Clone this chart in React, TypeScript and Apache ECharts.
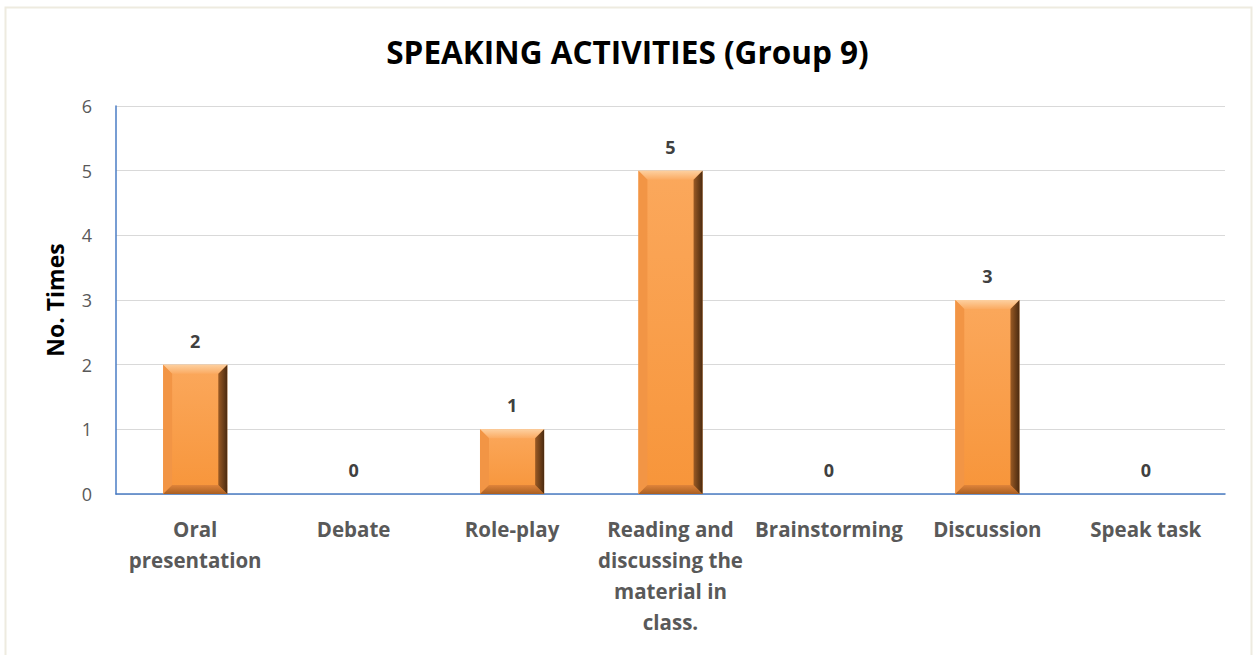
import React, { useEffect, useRef } from "react";
import * as echarts from "echarts";

const categories = [
  "Oral\npresentation",
  "Debate",
  "Role-play",
  "Reading and\ndiscussing the\nmaterial in\nclass.",
  "Brainstorming",
  "Discussion",
  "Speak task",
];
const values = [2, 0, 1, 5, 0, 3, 0];
const yTicks = [0, 1, 2, 3, 4, 5, 6];

export default function App() {
  const ref = useRef<HTMLDivElement>(null);
  useEffect(() => {
    document.body.style.margin = "0";
    const chart = echarts.init(ref.current!, null, { renderer: "svg" });
    const font = "'Open Sans', 'Liberation Sans', sans-serif";
    chart.setOption({
      animation: false,
      backgroundColor: "#ffffff",
      title: {
        text: "SPEAKING ACTIVITIES (Group 9)",
        left: "center",
        top: 30,
        textStyle: { fontFamily: font, fontWeight: "bold", fontSize: 31.5, color: "#000000" },
      },
      graphic: [
        {
          type: "rect",
          shape: { x: 5.5, y: 7.5, width: 1246, height: 660 },
          style: { fill: "none", stroke: "#eeebe0", lineWidth: 2 },
          silent: true,
        },
      ],
      grid: { left: 116, right: 30, top: 106, bottom: 161 },
      xAxis: {
        type: "category",
        data: categories,
        axisLine: { show: true, lineStyle: { color: "#4a7cc4", width: 1.5 } },
        axisTick: { show: false },
        axisLabel: {
          interval: 0,
          margin: 19,
          fontFamily: font,
          fontWeight: "bold",
          fontSize: 20.5,
          color: "#595959",
          lineHeight: 31,
        },
      },
      yAxis: {
        type: "value",
        min: 0,
        max: 6,
        interval: 1,
        name: "No. Times",
        nameLocation: "middle",
        nameGap: 50,
        nameTextStyle: { fontFamily: font, fontWeight: "bold", fontSize: 23, color: "#000000" },
        axisLine: { show: true, lineStyle: { color: "#4a7cc4", width: 1.5 } },
        axisTick: { show: false },
        axisLabel: {
          margin: 24,
          fontFamily: font,
          fontSize: 18,
          color: "#595959",
          formatter: (v: number) => (yTicks.includes(v) ? String(v) : ""),
        },
        splitLine: { lineStyle: { color: "#d9d9d9", width: 1 } },
      },
      series: [
        {
          type: "custom",
          data: values.map((v, i) => [i, v]),
          encode: { x: 0, y: 1 },
          renderItem: (params: any, api: any) => {
            const xi = api.value(0);
            const v = api.value(1);
            const top = api.coord([xi, v]);
            const bot = api.coord([xi, 0]);
            const w = api.size([1, 0])[0] * 0.405;
            const x0 = top[0] - w / 2;
            const x1 = top[0] + w / 2;
            const y0 = top[1];
            const y1 = bot[1];
            const b = 9;
            const children: any[] = [];
            if (v > 0) {
              children.push({
                type: "rect",
                shape: { x: x0, y: y0, width: w, height: y1 - y0 },
                style: {
                  fill: new echarts.graphic.LinearGradient(0, 0, 0, 1, [
                    { offset: 0, color: "#fba85c" },
                    { offset: 1, color: "#f7953a" },
                  ]),
                },
              });
              children.push({
                type: "polygon",
                shape: { points: [[x0, y0], [x1, y0], [x1 - b, y0 + b], [x0 + b, y0 + b]] },
                style: {
                  fill: new echarts.graphic.LinearGradient(0, 0, 0, 1, [
                    { offset: 0, color: "#fdd0a0" },
                    { offset: 1, color: "#fbab62" },
                  ]),
                },
              });
              children.push({
                type: "polygon",
                shape: { points: [[x0, y0], [x0 + b, y0 + b], [x0 + b, y1 - b], [x0, y1]] },
                style: { fill: "#f29545" },
              });
              children.push({
                type: "polygon",
                shape: { points: [[x0, y1], [x0 + b, y1 - b], [x1 - b, y1 - b], [x1, y1]] },
                style: {
                  fill: new echarts.graphic.LinearGradient(0, 0, 0, 1, [
                    { offset: 0, color: "#e0843a" },
                    { offset: 1, color: "#a85e22" },
                  ]),
                },
              });
              children.push({
                type: "polygon",
                shape: { points: [[x1, y0], [x1 - b, y0 + b], [x1 - b, y1 - b], [x1, y1]] },
                style: {
                  fill: new echarts.graphic.LinearGradient(0, 0, 1, 0, [
                    { offset: 0, color: "#9a5a24" },
                    { offset: 1, color: "#4a2a10" },
                  ]),
                },
              });
            }
            children.push({
              type: "text",
              x: top[0],
              y: y0 - 15,
              style: {
                text: String(v),
                align: "center",
                verticalAlign: "bottom",
                fontFamily: font,
                fontWeight: "bold",
                fontSize: 18,
                fill: "#404040",
              },
            });
            return { type: "group", children };
          },
        },
      ],
    });
    return () => chart.dispose();
  }, []);
  return <div ref={ref} style={{ width: 1255, height: 655 }} />;
}
